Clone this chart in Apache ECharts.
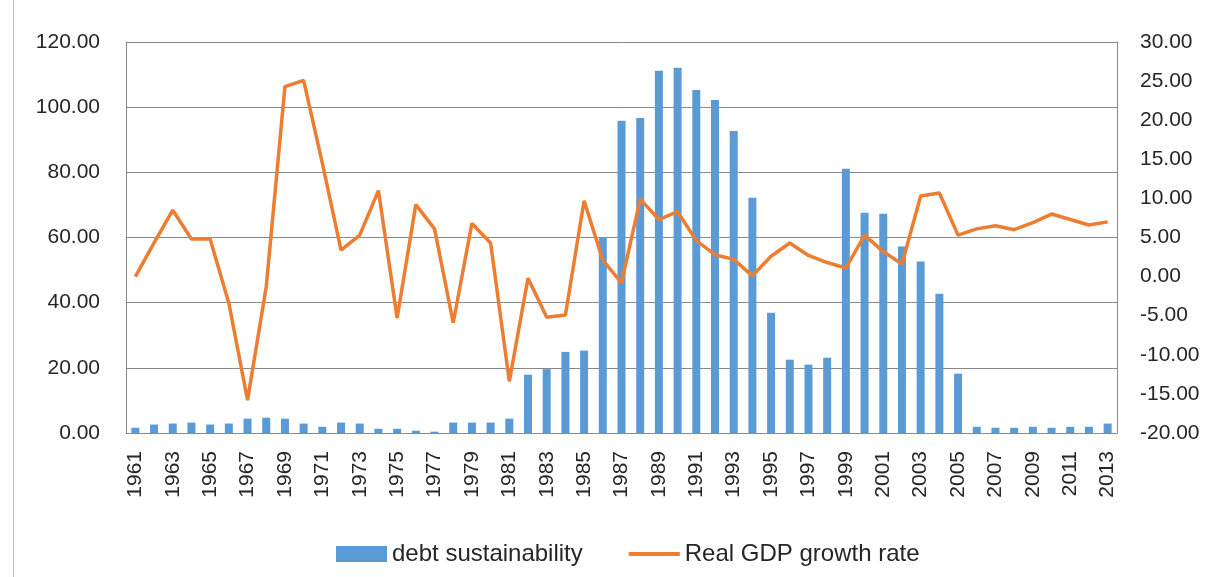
<!DOCTYPE html>
<html>
<head>
<meta charset="utf-8">
<script src="https://cdn.jsdelivr.net/npm/echarts@6/dist/echarts.min.js"></script>
<style>
  html, body { margin: 0; padding: 0; background: #fff; }
  #main { width: 1213px; height: 577px; }
</style>
</head>
<body>
<div id="main"></div>
<script>
// years on the x axis
var years = [];
for (var yr = 1961; yr <= 2013; yr++) years.push(String(yr));

// debt sustainability (left axis)
var debt = [
  1.6, 2.6, 2.9, 3.2, 2.6, 2.9, 4.4, 4.7, 4.4, 2.9,
  1.9, 3.2, 2.9, 1.3, 1.3, 0.7, 0.4, 3.2, 3.2, 3.2,
  4.4, 17.9, 19.6, 24.9, 25.3, 60.1, 95.8, 96.7, 111.2, 112.1,
  105.3, 102.2, 92.7, 72.2, 36.9, 22.5, 21.0, 23.1, 81.1, 67.6,
  67.3, 57.2, 52.6, 42.7, 18.2, 1.9, 1.6, 1.6, 1.9, 1.6,
  1.9, 1.9, 2.9
];

// real GDP growth rate (right axis)
var gdp = [
  0.0, 4.3, 8.5, 4.8, 4.8, -3.4, -15.8, -1.3, 24.3, 25.1,
  14.5, 3.4, 5.3, 11.0, -5.3, 9.2, 6.1, -5.9, 6.8, 4.3,
  -13.4, -0.2, -5.2, -4.9, 9.7, 2.1, -0.8, 9.9, 7.3, 8.3,
  4.6, 2.8, 2.2, 0.1, 2.6, 4.3, 2.7, 1.8, 1.1, 5.3,
  3.2, 1.6, 10.3, 10.7, 5.3, 6.1, 6.5, 6.0, 6.9, 8.0,
  7.3, 6.6, 7.0
];

var font = "Liberation Sans";
var txt = "#262626";
var gridCol = "#898989";

var myChart = echarts.init(document.getElementById("main"));
myChart.setOption({
  animation: false,
  textStyle: { fontFamily: font },
  grid: { left: 126, right: 96, top: 42, bottom: 144, containLabel: false },
  legend: {
    left: 331,
    top: 537,
    itemGap: 44,
    itemWidth: 51,
    itemHeight: 16,
    textStyle: { fontSize: 24, color: txt, fontFamily: font },
    data: [
      { name: "debt sustainability", icon: "rect" },
      {
        name: "Real GDP growth rate",
        itemStyle: { color: "rgba(0,0,0,0)", borderWidth: 0 },
        lineStyle: { color: "#ed7d31", width: 4 }
      }
    ]
  },
  graphic: [
    {
      type: "line",
      shape: { x1: 13.5, y1: 0, x2: 13.5, y2: 577 },
      style: { stroke: "#bfbfbf", lineWidth: 1 }
    }
  ],
  xAxis: {
    type: "category",
    data: years,
    boundaryGap: true,
    axisLine: { show: true, lineStyle: { color: gridCol, width: 1 } },
    axisTick: { show: false },
    axisLabel: {
      interval: 1,
      rotate: 90,
      margin: 18,
      fontSize: 21,
      color: txt,
      fontFamily: font
    }
  },
  yAxis: [
    {
      type: "value",
      min: 0,
      max: 120,
      interval: 20,
      axisLine: { show: true, lineStyle: { color: gridCol } },
      axisTick: { show: false },
      axisLabel: {
        margin: 26,
        fontSize: 21,
        color: txt,
        fontFamily: font,
        formatter: function (v) { return v.toFixed(2); }
      },
      splitLine: { show: true, lineStyle: { color: gridCol, width: 1 } }
    },
    {
      type: "value",
      min: -20,
      max: 30,
      interval: 5,
      axisLine: { show: true, lineStyle: { color: gridCol } },
      axisTick: { show: false },
      axisLabel: {
        margin: 23,
        fontSize: 21,
        color: txt,
        fontFamily: font,
        formatter: function (v) { return v.toFixed(2); }
      },
      splitLine: { show: false }
    }
  ],
  series: [
    {
      name: "debt sustainability",
      type: "bar",
      yAxisIndex: 0,
      data: debt,
      barWidth: 8,
      itemStyle: { color: "#5b9bd5" }
    },
    {
      name: "Real GDP growth rate",
      type: "line",
      yAxisIndex: 1,
      data: gdp,
      symbol: "none",
      smooth: false,
      lineStyle: { color: "#ed7d31", width: 3.5 },
      itemStyle: { color: "#ed7d31" }
    }
  ]
});
</script>
</body>
</html>
